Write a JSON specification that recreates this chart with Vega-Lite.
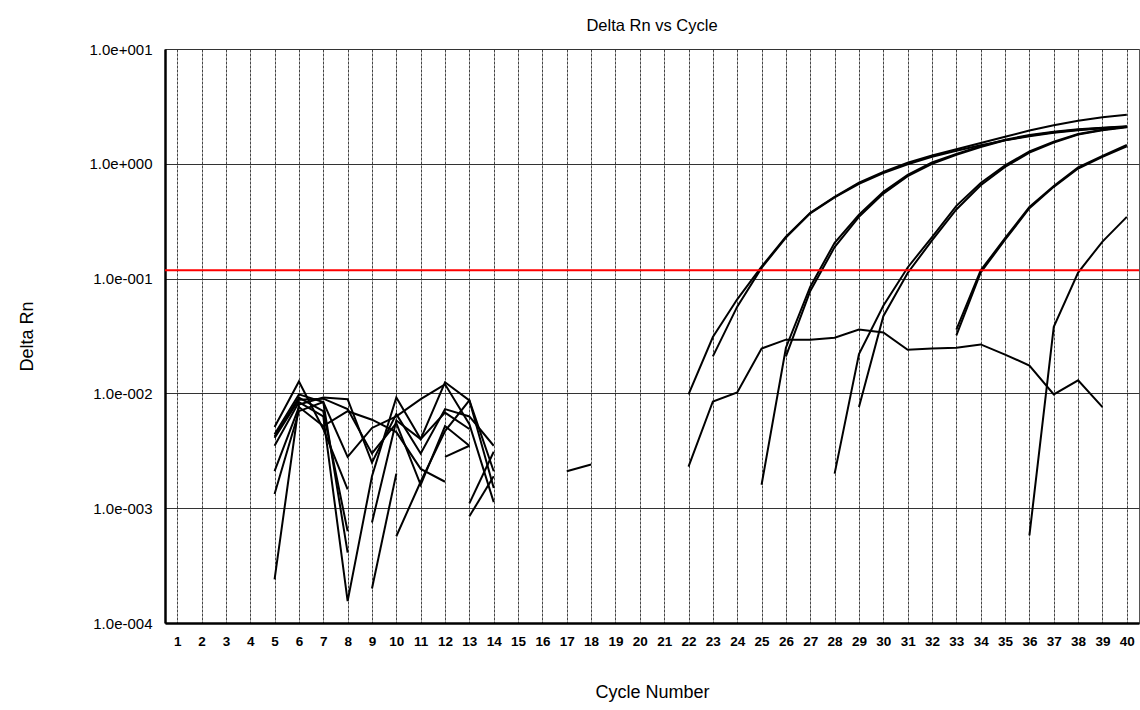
{
  "$schema": "https://vega.github.io/schema/vega-lite/v6.json",
  "width": 974,
  "height": 574,
  "autosize": {"type": "none"},
  "padding": {"left": 165, "top": 49, "right": 1, "bottom": 87},
  "background": "white",
  "title": {
    "text": "Delta Rn vs Cycle",
    "font": "Liberation Sans",
    "fontSize": 16.5,
    "fontWeight": "normal",
    "color": "#000",
    "anchor": "middle",
    "offset": 8
  },
  "config": {
    "view": {"stroke": "#555", "strokeWidth": 1},
    "axis": {"labelFont": "Liberation Sans", "titleFont": "Liberation Sans", "labelColor": "#000", "titleColor": "#000"}
  },
  "datasets": {
    "curves": [
      {"s":"L1","c":5,"v":0.0051},{"s":"L1","c":6,"v":0.0127},{"s":"L1","c":7,"v":0.0049},{"s":"L1","c":8,"v":0.00146},
      {"s":"L2","c":5,"v":0.00024},{"s":"L2","c":6,"v":0.008},{"s":"L2","c":7,"v":0.0092},{"s":"L2","c":8,"v":0.0089},{"s":"L2","c":9,"v":0.0025},{"s":"L2","c":10,"v":0.0066},{"s":"L2","c":11,"v":0.003},{"s":"L2","c":12,"v":0.0073},{"s":"L2","c":13,"v":0.0063},{"s":"L2","c":14,"v":0.0035},
      {"s":"L3","c":5,"v":0.0044},{"s":"L3","c":6,"v":0.0098},{"s":"L3","c":7,"v":0.0084},{"s":"L3","c":8,"v":0.00041},
      {"s":"L4","c":5,"v":0.0042},{"s":"L4","c":6,"v":0.0092},{"s":"L4","c":7,"v":0.007},{"s":"L4","c":8,"v":0.00063},
      {"s":"L5","c":5,"v":0.0035},{"s":"L5","c":6,"v":0.0084},{"s":"L5","c":7,"v":0.0063},{"s":"L5","c":8,"v":0.000155},{"s":"L5","c":9,"v":0.0019},{"s":"L5","c":10,"v":0.0092},{"s":"L5","c":11,"v":0.004},{"s":"L5","c":12,"v":0.0125},{"s":"L5","c":13,"v":0.0087},{"s":"L5","c":14,"v":0.0015},
      {"s":"L6","c":5,"v":0.0021},{"s":"L6","c":6,"v":0.0076},{"s":"L6","c":7,"v":0.0052},{"s":"L6","c":8,"v":0.007},{"s":"L6","c":9,"v":0.0059},{"s":"L6","c":10,"v":0.0046},{"s":"L6","c":11,"v":0.0022},{"s":"L6","c":12,"v":0.0017},
      {"s":"L7","c":5,"v":0.00133},{"s":"L7","c":6,"v":0.007},{"s":"L7","c":7,"v":0.0084},{"s":"L7","c":8,"v":0.0028},{"s":"L7","c":9,"v":0.005},{"s":"L7","c":10,"v":0.0063},{"s":"L7","c":11,"v":0.0089},{"s":"L7","c":12,"v":0.012},{"s":"L7","c":13,"v":0.0054},{"s":"L7","c":14,"v":0.00113},
      {"s":"L8","c":5,"v":0.0041},{"s":"L8","c":6,"v":0.0088},{"s":"L8","c":7,"v":0.009},{"s":"L8","c":8,"v":0.0073},{"s":"L8","c":9,"v":0.003},{"s":"L8","c":10,"v":0.0055},{"s":"L8","c":11,"v":0.0016},{"s":"L8","c":12,"v":0.0052},{"s":"L8","c":13,"v":0.0035},
      {"s":"L9","c":9,"v":0.00075},{"s":"L9","c":10,"v":0.0058},{"s":"L9","c":11,"v":0.004},{"s":"L9","c":12,"v":0.0068},{"s":"L9","c":13,"v":0.0049},
      {"s":"L10","c":9,"v":0.0002},{"s":"L10","c":10,"v":0.002},
      {"s":"L11","c":10,"v":0.00057},{"s":"L11","c":11,"v":0.0017},{"s":"L11","c":12,"v":0.0047},{"s":"L11","c":13,"v":0.0087},{"s":"L11","c":14,"v":0.0021},
      {"s":"L12","c":12,"v":0.0028},{"s":"L12","c":13,"v":0.0035},
      {"s":"L13","c":13,"v":0.0011},{"s":"L13","c":14,"v":0.0031},
      {"s":"L14","c":13,"v":0.00085},{"s":"L14","c":14,"v":0.0019},
      {"s":"G","c":17,"v":0.0021},{"s":"G","c":18,"v":0.0024},
      {"s":"A","c":22,"v":0.0098},{"s":"A","c":23,"v":0.031},{"s":"A","c":24,"v":0.066},{"s":"A","c":25,"v":0.127},{"s":"A","c":26,"v":0.232},{"s":"A","c":27,"v":0.375},{"s":"A","c":28,"v":0.516},{"s":"A","c":29,"v":0.684},{"s":"A","c":30,"v":0.851},{"s":"A","c":31,"v":1.02},{"s":"A","c":32,"v":1.18},{"s":"A","c":33,"v":1.34},{"s":"A","c":34,"v":1.52},{"s":"A","c":35,"v":1.72},{"s":"A","c":36,"v":1.95},{"s":"A","c":37,"v":2.17},{"s":"A","c":38,"v":2.37},{"s":"A","c":39,"v":2.54},{"s":"A","c":40,"v":2.67},
      {"s":"A2","c":23,"v":0.021},{"s":"A2","c":24,"v":0.057},{"s":"A2","c":25,"v":0.124},{"s":"A2","c":26,"v":0.228},{"s":"A2","c":27,"v":0.37},{"s":"A2","c":28,"v":0.51},{"s":"A2","c":29,"v":0.67},{"s":"A2","c":30,"v":0.83},{"s":"A2","c":31,"v":0.99},{"s":"A2","c":32,"v":1.15},{"s":"A2","c":33,"v":1.3},{"s":"A2","c":34,"v":1.45},{"s":"A2","c":35,"v":1.6},{"s":"A2","c":36,"v":1.74},{"s":"A2","c":37,"v":1.86},{"s":"A2","c":38,"v":1.96},{"s":"A2","c":39,"v":2.04},{"s":"A2","c":40,"v":2.1},
      {"s":"B1","c":25,"v":0.0016},{"s":"B1","c":26,"v":0.025},{"s":"B1","c":27,"v":0.085},{"s":"B1","c":28,"v":0.205},{"s":"B1","c":29,"v":0.36},{"s":"B1","c":30,"v":0.57},{"s":"B1","c":31,"v":0.8},{"s":"B1","c":32,"v":1.03},{"s":"B1","c":33,"v":1.22},{"s":"B1","c":34,"v":1.42},{"s":"B1","c":35,"v":1.62},{"s":"B1","c":36,"v":1.78},{"s":"B1","c":37,"v":1.9},{"s":"B1","c":38,"v":2.0},{"s":"B1","c":39,"v":2.06},{"s":"B1","c":40,"v":2.12},
      {"s":"B2","c":26,"v":0.021},{"s":"B2","c":27,"v":0.078},{"s":"B2","c":28,"v":0.188},{"s":"B2","c":29,"v":0.345},{"s":"B2","c":30,"v":0.55},{"s":"B2","c":31,"v":0.78},{"s":"B2","c":32,"v":1.0},{"s":"B2","c":33,"v":1.2},{"s":"B2","c":34,"v":1.4},{"s":"B2","c":35,"v":1.6},{"s":"B2","c":36,"v":1.76},{"s":"B2","c":37,"v":1.88},{"s":"B2","c":38,"v":1.98},{"s":"B2","c":39,"v":2.05},{"s":"B2","c":40,"v":2.1},
      {"s":"C1","c":28,"v":0.002},{"s":"C1","c":29,"v":0.022},{"s":"C1","c":30,"v":0.058},{"s":"C1","c":31,"v":0.125},{"s":"C1","c":32,"v":0.23},{"s":"C1","c":33,"v":0.43},{"s":"C1","c":34,"v":0.68},{"s":"C1","c":35,"v":0.97},{"s":"C1","c":36,"v":1.28},{"s":"C1","c":37,"v":1.56},{"s":"C1","c":38,"v":1.82},{"s":"C1","c":39,"v":1.98},{"s":"C1","c":40,"v":2.1},
      {"s":"C2","c":29,"v":0.0076},{"s":"C2","c":30,"v":0.047},{"s":"C2","c":31,"v":0.112},{"s":"C2","c":32,"v":0.215},{"s":"C2","c":33,"v":0.4},{"s":"C2","c":34,"v":0.65},{"s":"C2","c":35,"v":0.94},{"s":"C2","c":36,"v":1.25},{"s":"C2","c":37,"v":1.53},{"s":"C2","c":38,"v":1.8},{"s":"C2","c":39,"v":1.96},{"s":"C2","c":40,"v":2.08},
      {"s":"D1","c":33,"v":0.032},{"s":"D1","c":34,"v":0.113},{"s":"D1","c":35,"v":0.218},{"s":"D1","c":36,"v":0.41},{"s":"D1","c":37,"v":0.63},{"s":"D1","c":38,"v":0.91},{"s":"D1","c":39,"v":1.15},{"s":"D1","c":40,"v":1.42},
      {"s":"D2","c":33,"v":0.036},{"s":"D2","c":34,"v":0.118},{"s":"D2","c":35,"v":0.225},{"s":"D2","c":36,"v":0.42},{"s":"D2","c":37,"v":0.64},{"s":"D2","c":38,"v":0.93},{"s":"D2","c":39,"v":1.17},{"s":"D2","c":40,"v":1.46},
      {"s":"E","c":36,"v":0.00058},{"s":"E","c":37,"v":0.038},{"s":"E","c":38,"v":0.113},{"s":"E","c":39,"v":0.21},{"s":"E","c":40,"v":0.345},
      {"s":"F","c":22,"v":0.0023},{"s":"F","c":23,"v":0.0085},{"s":"F","c":24,"v":0.0102},{"s":"F","c":25,"v":0.0246},{"s":"F","c":26,"v":0.0294},{"s":"F","c":27,"v":0.0294},{"s":"F","c":28,"v":0.0306},{"s":"F","c":29,"v":0.036},{"s":"F","c":30,"v":0.034},{"s":"F","c":31,"v":0.024},{"s":"F","c":32,"v":0.0246},{"s":"F","c":33,"v":0.025},{"s":"F","c":34,"v":0.0267},{"s":"F","c":35,"v":0.0218},{"s":"F","c":36,"v":0.0175},{"s":"F","c":37,"v":0.0098},{"s":"F","c":38,"v":0.013},{"s":"F","c":39,"v":0.0076}
    ],
    "threshold": [{"t": 0.118}]
  },
  "layer": [
    {
      "data": {"name": "curves"},
      "mark": {"type": "line", "color": "#000", "strokeWidth": 2, "clip": true},
      "encoding": {
        "x": {
          "field": "c", "type": "quantitative",
          "scale": {"domain": [0.5, 40.5], "nice": false, "zero": false},
          "axis": {
            "values": [1,2,3,4,5,6,7,8,9,10,11,12,13,14,15,16,17,18,19,20,21,22,23,24,25,26,27,28,29,30,31,32,33,34,35,36,37,38,39,40],
            "title": "Cycle Number",
            "titleFontSize": 18, "titleFontWeight": "normal", "titlePadding": 36,
            "labelFontSize": 13.5, "labelFontWeight": "bold", "labelPadding": 11,
            "ticks": false,
            "domainColor": "#000", "domainWidth": 2.5,
            "grid": true, "gridColor": "#444", "gridWidth": 1, "gridDash": [3, 1],
            "labelFlush": false
          }
        },
        "y": {
          "field": "v", "type": "quantitative",
          "scale": {"type": "log", "domain": [0.0001, 10], "nice": false},
          "axis": {
            "values": [0.0001, 0.001, 0.01, 0.1, 1, 10],
            "labelExpr": "'1.0e' + (round(log(datum.value)/LN10) < 0 ? '-' : '+') + '00' + abs(round(log(datum.value)/LN10))",
            "title": "Delta Rn",
            "titleFontSize": 18, "titleFontWeight": "normal", "titlePadding": 53,
            "labelFontSize": 15, "labelPadding": 13,
            "ticks": false,
            "domainColor": "#000", "domainWidth": 2.5,
            "grid": true, "gridColor": "#333", "gridWidth": 1,
            "labelFlush": false
          }
        },
        "detail": {"field": "s", "type": "nominal"}
      }
    },
    {
      "data": {"name": "threshold"},
      "mark": {"type": "rule", "color": "#ff0000", "strokeWidth": 2},
      "encoding": {
        "y": {"field": "t", "type": "quantitative"}
      }
    }
  ]
}
